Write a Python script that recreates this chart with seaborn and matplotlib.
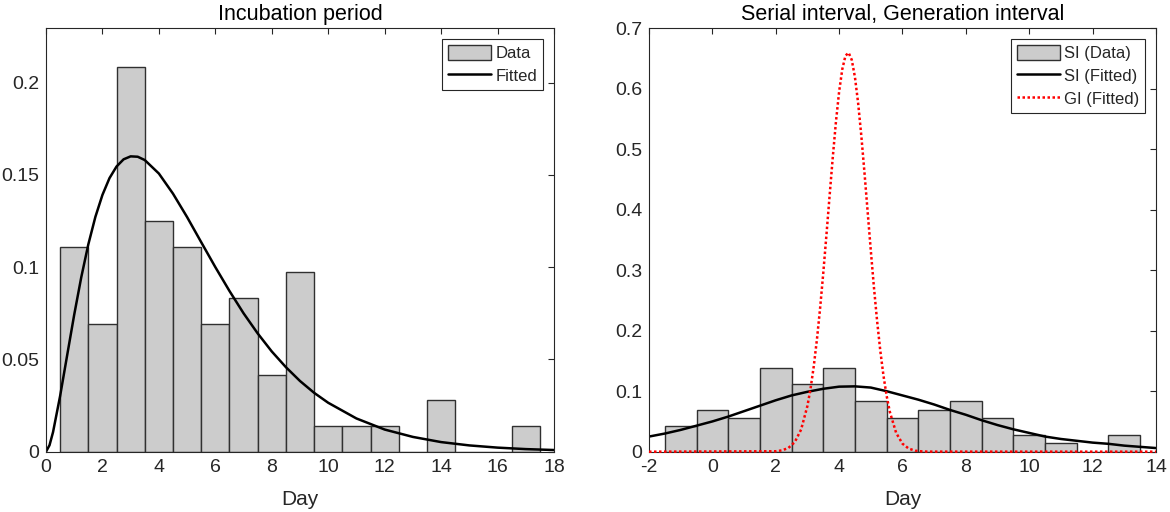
import seaborn as sns
import matplotlib.pyplot as plt
from matplotlib.patches import Patch
from matplotlib.lines import Line2D

# incubation period: density per 1-day bin (bin centres 1..17)
inc_days = list(range(1, 18))
inc_density = [0.1111, 0.0694, 0.2083, 0.1250, 0.1111, 0.0694, 0.0833, 0.0417, 0.0972,
               0.0139, 0.0139, 0.0139, 0.0, 0.0278, 0.0, 0.0, 0.0139]

# fitted incubation curve
inc_fit_x = [0, 0.125, 0.25, 0.5, 0.75, 1, 1.25, 1.5, 1.75, 2, 2.25, 2.5, 2.75, 3, 3.25, 3.5,
             4, 4.5, 5, 5.5, 6, 6.5, 7, 7.5, 8, 8.5, 9, 9.5, 10, 11, 12, 13, 14, 15, 16, 17, 18]
inc_fit_y = [0, 0.0035, 0.0106, 0.0301, 0.0522, 0.0742, 0.0945, 0.1123, 0.1272, 0.1391, 0.1482,
             0.1545, 0.1584, 0.1600, 0.1598, 0.1580, 0.1507, 0.1398, 0.1271, 0.1135, 0.1000,
             0.0871, 0.0750, 0.0641, 0.0543, 0.0458, 0.0383, 0.0319, 0.0265, 0.0180, 0.0120,
             0.0080, 0.0052, 0.0034, 0.0022, 0.0014, 0.0009]

# serial interval: density per 1-day bin (bin centres -1..13)
si_days = list(range(-1, 14))
si_density = [0.0417, 0.0694, 0.0556, 0.1389, 0.1111, 0.1389, 0.0833, 0.0556, 0.0694,
              0.0833, 0.0556, 0.0278, 0.0139, 0.0, 0.0278]

# fitted serial interval curve
si_fit_x = [-2, -1.5, -1, -0.5, 0, 0.5, 1, 1.5, 2, 2.5, 3, 3.5, 4, 4.5, 5, 5.5, 6, 6.5, 7,
            7.5, 8, 8.5, 9, 9.5, 10, 10.5, 11, 11.5, 12, 12.5, 13, 13.5, 14]
si_fit_y = [0.025, 0.030, 0.036, 0.043, 0.050, 0.058, 0.067, 0.076, 0.085, 0.093, 0.099,
            0.104, 0.1075, 0.108, 0.106, 0.100, 0.093, 0.086, 0.078, 0.069, 0.061, 0.052,
            0.044, 0.037, 0.031, 0.025, 0.021, 0.018, 0.015, 0.013, 0.010, 0.008, 0.006]

# fitted generation interval curve
gi_fit_x = [-2, 2.0, 2.2, 2.4, 2.6, 2.8, 3.0, 3.1, 3.2, 3.3, 3.4, 3.5, 3.6, 3.7, 3.8, 3.9,
            4.0, 4.1, 4.2, 4.3, 4.4, 4.5, 4.6, 4.7, 4.8, 4.9, 5.0, 5.1, 5.2, 5.3, 5.4, 5.5,
            5.6, 5.8, 6.0, 6.2, 6.4, 6.6, 6.8, 14]
gi_fit_y = [0, 0.0007, 0.0022, 0.0062, 0.0158, 0.0365, 0.0757, 0.1047, 0.1412, 0.1855,
            0.2371, 0.2953, 0.3582, 0.4231, 0.4867, 0.5453, 0.5950, 0.6323, 0.6545, 0.6596,
            0.6476, 0.6191, 0.5765, 0.5227, 0.4617, 0.3971, 0.3326, 0.2713, 0.2156, 0.1668,
            0.1257, 0.0923, 0.0660, 0.0311, 0.0132, 0.0050, 0.0017, 0.0005, 0.0001, 0]

inc_xticks = [0, 2, 4, 6, 8, 10, 12, 14, 16, 18]
inc_yticks = [0, 0.05, 0.1, 0.15, 0.2]
inc_yticklabels = ['0', '0.05', '0.1', '0.15', '0.2']
si_xticks = [-2, 0, 2, 4, 6, 8, 10, 12, 14]
si_xticklabels = ['-2', '0', '2', '4', '6', '8', '10', '12', '14']
si_yticks = [0, 0.1, 0.2, 0.3, 0.4, 0.5, 0.6, 0.7]
si_yticklabels = ['0', '0.1', '0.2', '0.3', '0.4', '0.5', '0.6', '0.7']

sns.set_style('white')
plt.rcParams['font.family'] = ['Liberation Sans', 'DejaVu Sans']

bar_face = '#cccccc'
bar_edge = '#303030'
axis_col = '#262626'

fig = plt.figure(figsize=(11.7, 5.12), dpi=100)
ax1 = fig.add_axes([0.0393, 0.1178, 0.4342, 0.827])
ax2 = fig.add_axes([0.5547, 0.1178, 0.4333, 0.827])

# left panel
sns.histplot(x=inc_days, weights=inc_density, binwidth=1, binrange=(0.5, 17.5),
             color=bar_face, edgecolor=bar_edge, linewidth=1, alpha=1, ax=ax1)
sns.lineplot(x=inc_fit_x, y=inc_fit_y, color='black', linewidth=1.8, ax=ax1)
ax1.set_xlim(0, 18)
ax1.set_ylim(0, 0.2294)
ax1.set_xticks(inc_xticks)
ax1.set_xticklabels([str(t) for t in inc_xticks])
ax1.set_yticks(inc_yticks)
ax1.set_yticklabels(inc_yticklabels)
ax1.set_title('Incubation period', fontsize=15.5, pad=6, color='black')
inc_handles = [Patch(facecolor=bar_face, edgecolor=bar_edge, linewidth=1),
               Line2D([], [], color='black', linewidth=1.8)]

# right panel
sns.histplot(x=si_days, weights=si_density, binwidth=1, binrange=(-1.5, 13.5),
             color=bar_face, edgecolor=bar_edge, linewidth=1, alpha=1, ax=ax2)
sns.lineplot(x=si_fit_x, y=si_fit_y, color='black', linewidth=1.8, ax=ax2)
sns.lineplot(x=gi_fit_x, y=gi_fit_y, color='red', linewidth=1.8, linestyle=(0, (1, 1)),
             ax=ax2, clip_on=False, zorder=4)
ax2.set_xlim(-2, 14)
ax2.set_ylim(0, 0.7)
ax2.set_xticks(si_xticks)
ax2.set_xticklabels(si_xticklabels)
ax2.set_yticks(si_yticks)
ax2.set_yticklabels(si_yticklabels)
ax2.set_title('Serial interval, Generation interval', fontsize=15.5, pad=6, color='black')
si_handles = [Patch(facecolor=bar_face, edgecolor=bar_edge, linewidth=1),
              Line2D([], [], color='black', linewidth=1.8),
              Line2D([], [], color='red', linewidth=1.8, linestyle=(0, (1, 1)))]

for ax, handles, labels in ((ax1, inc_handles, ['Data', 'Fitted']),
                            (ax2, si_handles, ['SI (Data)', 'SI (Fitted)', 'GI (Fitted)'])):
    ax.set_xlabel('Day', fontsize=15, labelpad=10, color=axis_col)
    ax.set_ylabel('')
    ax.tick_params(direction='in', top=True, right=True, length=4, width=0.8,
                   colors=axis_col, labelsize=14, pad=5)
    for sp in ax.spines.values():
        sp.set_color(axis_col)
        sp.set_linewidth(0.8)
    leg = ax.legend(handles=handles, labels=labels, loc='upper right', fontsize=12,
                    fancybox=False, framealpha=1, edgecolor=axis_col, borderaxespad=0.65,
                    handlelength=2.6, handleheight=1.0, handletextpad=0.25,
                    labelspacing=0.4, borderpad=0.35)
    leg.get_frame().set_linewidth(0.8)

fig.savefig('out.png', dpi=100)
